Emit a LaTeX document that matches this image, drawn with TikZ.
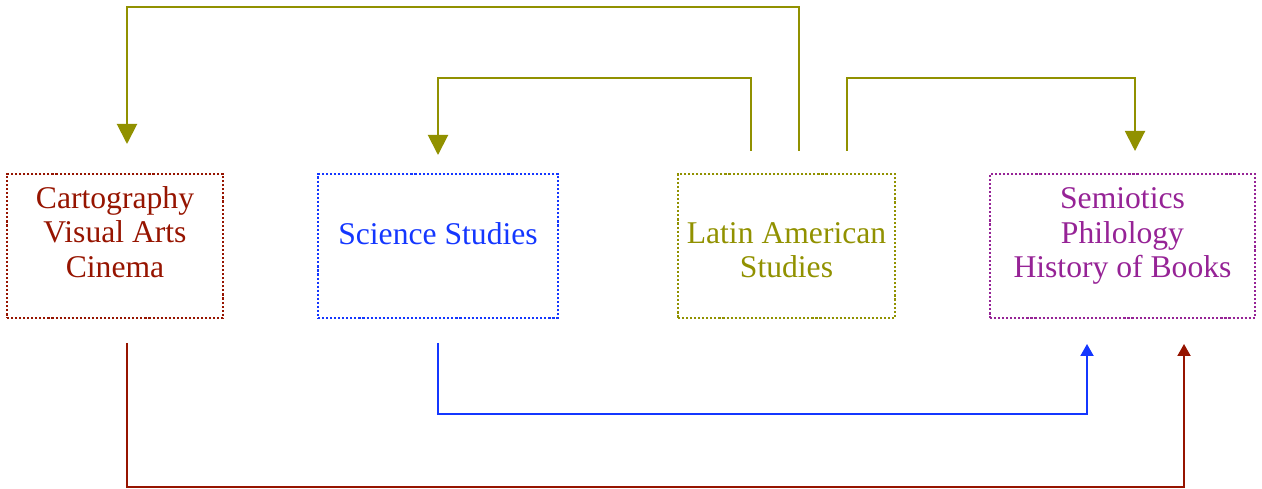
\documentclass[tikz,border=0pt]{standalone}
\usepackage{fontspec}
\setmainfont{Liberation Serif}
\usetikzlibrary{arrows.meta,positioning}
\definecolor{rustred}{RGB}{150,20,0}
\definecolor{sciblue}{RGB}{20,55,255}
\definecolor{olivegr}{RGB}{145,145,0}
\definecolor{plum}{RGB}{150,35,150}

\begin{document}
\begin{tikzpicture}[x=0.2mm, y=-0.2mm, >=Triangle]
  \tikzset{area/.style={draw, line width=0.45mm, dash pattern=on 1.2pt off 1.1pt,
      minimum height=28.8mm, inner sep=0pt},
    lbl/.style={align=center, font=\fontsize{18}{19.5}\selectfont},
    link/.style={line width=0.4mm, ->},
    big/.style={-{Triangle[width=4mm, length=4mm]}},
    small/.style={-{Triangle[width=2.6mm, length=2.4mm]}}}
  \useasboundingbox (0,0) rectangle (1262,489);

  \node[area, rustred, minimum width=43.2mm] (carto) at (115,246) {};
  \node[area, sciblue, minimum width=48mm] (science) at (438,246) {};
  \node[area, olivegr, minimum width=43.4mm] (latam) at (786.5,246) {};
  \node[area, plum, minimum width=53mm] (semio) at (1122.5,246) {};

  \node[lbl, rustred] (cartotxt) at (115,232) {Cartography\\Visual Arts\\Cinema};
  \node[lbl, sciblue] (sciencetxt) at (438,234) {Science Studies};
  \node[lbl, olivegr] (latamtxt) at (786.5,250) {Latin American\\Studies};
  \node[lbl, plum] (semiotxt) at (1122.5,236) {Semiotics\\Philology\\History of Books};

  % olive links out of the top of Latin American Studies
  \coordinate (o1) at (751,151);
  \coordinate (o2) at (799,151);
  \coordinate (o3) at (847,151);
  \coordinate (t1) at (127,144);
  \coordinate (t2) at (438,155);
  \coordinate (t4) at (1135,151);
  \draw[link, big, olivegr] (o2) -- ++(0,-144) -| (t1);
  \draw[link, big, olivegr] (o1) -- ++(0,-73) -| (t2);
  \draw[link, big, olivegr] (o3) -- ++(0,-73) -| (t4);

  % links into the bottom of Semiotics
  \coordinate (b1) at (127,343);
  \coordinate (b2) at (438,343);
  \coordinate (s1) at (1184,344);
  \coordinate (s2) at (1087,344);
  \draw[link, small, sciblue] (b2) -- ++(0,71) -| (s2);
  \draw[link, small, rustred] (b1) -- ++(0,144) -| (s1);
\end{tikzpicture}
\end{document}
